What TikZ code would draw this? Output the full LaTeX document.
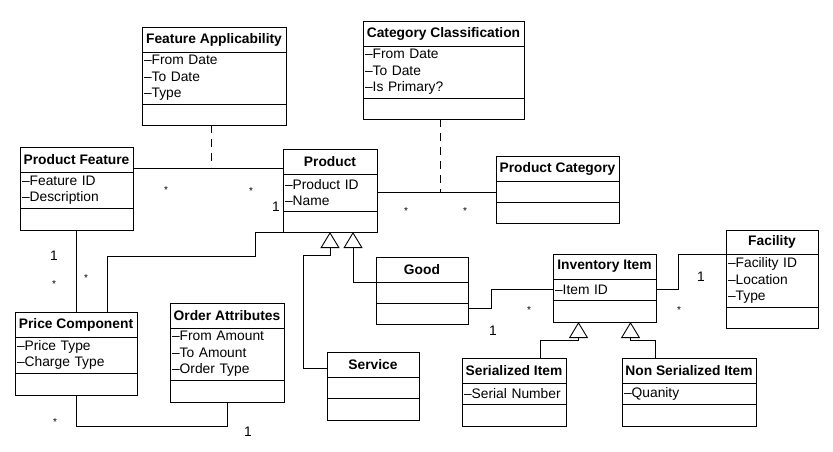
\documentclass[tikz,border=0pt]{standalone}
\usepackage{fontspec}
\setmainfont{Liberation Sans}
\usetikzlibrary{positioning,arrows.meta}

\begin{document}
\begin{tikzpicture}[
    x=1pt, y=-1pt,
    line width=0.9pt,
    font=\fontsize{13.8}{16.5}\selectfont,
    head/.style={draw, outer sep=0pt, inner sep=2pt, minimum height=25, anchor=north west,
        font=\fontsize{13.8}{16.5}\selectfont\bfseries},
    attr/.style={draw, outer sep=0pt, inner xsep=2pt, inner ysep=2pt, align=left},
    ops/.style={draw, outer sep=0pt, inner sep=0pt, minimum height=21},
    gen/.style={-{Triangle[open, length=16pt, width=19pt]}},
    assoc/.style={dash pattern=on 8pt off 6pt},
    one/.style={inner sep=1pt},
    many/.style={inner sep=1pt, font=\fontsize{10}{10}\selectfont}
]
\useasboundingbox (0,0) rectangle (833,451);

% Feature Applicability
\node[head, minimum width=144] (fapp) at (142,27) {Feature Applicability};
\node[attr, text width=140pt, minimum height=52, below=0pt of fapp] (fapp-a) {--From Date\\--To Date\\--Type};
\node[ops, minimum width=144, below=0pt of fapp-a] (fapp-o) {};

% Category Classification
\node[head, minimum width=161] (ccl) at (363,21) {Category Classification};
\node[attr, text width=157pt, minimum height=52, below=0pt of ccl] (ccl-a) {--From Date\\--To Date\\--Is Primary?};
\node[ops, minimum width=161, below=0pt of ccl-a] (ccl-o) {};

% Product Feature
\node[head, minimum width=113] (feat) at (20,147) {Product Feature};
\node[attr, text width=109pt, minimum height=36, below=0pt of feat] (feat-a) {--Feature ID\\--Description};
\node[ops, minimum width=113, minimum height=22, below=0pt of feat-a] (feat-o) {};

% Product
\node[head, minimum width=94] (prod) at (283,149) {Product};
\node[attr, text width=90pt, minimum height=37, below=0pt of prod] (prod-a) {--Product ID\\--Name};
\node[ops, minimum width=94, below=0pt of prod-a] (prod-o) {};

% Product Category
\node[head, minimum width=123] (pcat) at (496,156) {Product Category};
\node[ops, minimum width=123, below=0pt of pcat] (pcat-a) {};
\node[ops, minimum width=123, below=0pt of pcat-a] (pcat-o) {};

% Price Component
\node[head, minimum width=122] (price) at (15,312) {Price Component};
\node[attr, text width=118pt, minimum height=36, below=0pt of price] (price-a) {--Price Type\\--Charge Type};
\node[ops, minimum width=122, minimum height=22, below=0pt of price-a] (price-o) {};

% Order Attributes
\node[head, minimum width=114] (oattr) at (170,303) {Order Attributes};
\node[attr, text width=110pt, minimum height=52, below=0pt of oattr] (oattr-a) {--From Amount\\--To Amount\\--Order Type};
\node[ops, minimum width=114, minimum height=22, below=0pt of oattr-a] (oattr-o) {};

% Service
\node[head, minimum width=92] (serv) at (327,352) {Service};
\node[ops, minimum width=92, below=0pt of serv] (serv-a) {};
\node[ops, minimum width=92, minimum height=22, below=0pt of serv-a] (serv-o) {};

% Good
\node[head, minimum width=92] (good) at (376,257) {Good};
\node[ops, minimum width=92, below=0pt of good] (good-a) {};
\node[ops, minimum width=92, below=0pt of good-a] (good-o) {};

% Inventory Item
\node[head, minimum width=103] (inv) at (553,254) {Inventory Item};
\node[attr, text width=99pt, minimum height=21, below=0pt of inv] (inv-a) {--Item ID};
\node[ops, minimum width=103, minimum height=22, below=0pt of inv-a] (inv-o) {};

% Facility
\node[head, minimum width=92, minimum height=24] (fac) at (726,230) {Facility};
\node[attr, text width=88pt, minimum height=53, below=0pt of fac] (fac-a) {--Facility ID\\--Location\\--Type};
\node[ops, minimum width=92, below=0pt of fac-a] (fac-o) {};

% Serialized Item
\node[head, minimum width=104] (sitem) at (462,358) {Serialized Item};
\node[attr, text width=100pt, minimum height=21, below=0pt of sitem] (sitem-a) {--Serial Number};
\node[ops, minimum width=104, minimum height=22, below=0pt of sitem-a] (sitem-o) {};

% Non Serialized Item
\node[head, minimum width=134] (nsitem) at (622,358) {Non Serialized Item};
\node[attr, text width=130pt, minimum height=21, below=0pt of nsitem] (nsitem-a) {--Quanity};
\node[ops, minimum width=134, minimum height=22, below=0pt of nsitem-a] (nsitem-o) {};

% Associations
\draw ([yshift=4pt]feat.south east) -- ([yshift=6pt]prod.south west);
\draw[assoc] ([xshift=-3pt]fapp-o.south) -- ++(0,42);
\draw (prod-a.east) -- (prod-a.east -| pcat.west);
\draw[assoc] ([xshift=-3pt]ccl-o.south) -- ++(0,73);
\draw (feat-o.south) -- (feat-o.south |- price.north);
\draw (prod-o.south west) -- ++(-28,0) -- ++(0,24) -| ([xshift=31pt]price.north);
\draw (price-o.south) -- ++(0,31) -| (oattr-o.south);
\draw ([yshift=-5pt]good-o.north east) -- ++(23,0) |- (inv-a.west);
\draw (inv-a.east) -- ++(22,0) |- (fac.south west);

% Generalizations
\draw[gen] ([yshift=-4pt]serv.west) -- ++(-24,0) |- ([yshift=-23pt]prod-o.south) -- (prod-o.south);
\draw[gen] (good.south west) -| ([xshift=23pt]prod-o.south);
\draw[gen] ([xshift=26pt]sitem.north) -- ++(0,-18) -| ([xshift=-26pt]inv-o.south);
\draw[gen] ([xshift=-34pt]nsitem.north) -- ++(0,-18) -| ([xshift=26pt]inv-o.south);

% Multiplicities
\node[many] (m1) at (166,190) {*};
\node[many] (m2) at (251,191) {*};
\node[one] (m3) at (276,207) {1};
\node[many] (m4) at (406,211) {*};
\node[many] (m5) at (465,211) {*};
\node[one] (m6) at (54,256) {1};
\node[many] (m7) at (54,284) {*};
\node[many] (m8) at (86,278) {*};
\node[many] (m9) at (55,422) {*};
\node[one] (m10) at (248,432) {1};
\node[many] (m11) at (529,310) {*};
\node[one] (m12) at (493,331) {1};
\node[one] (m13) at (701,277) {1};
\node[many] (m14) at (679,310) {*};

\end{tikzpicture}
\end{document}
